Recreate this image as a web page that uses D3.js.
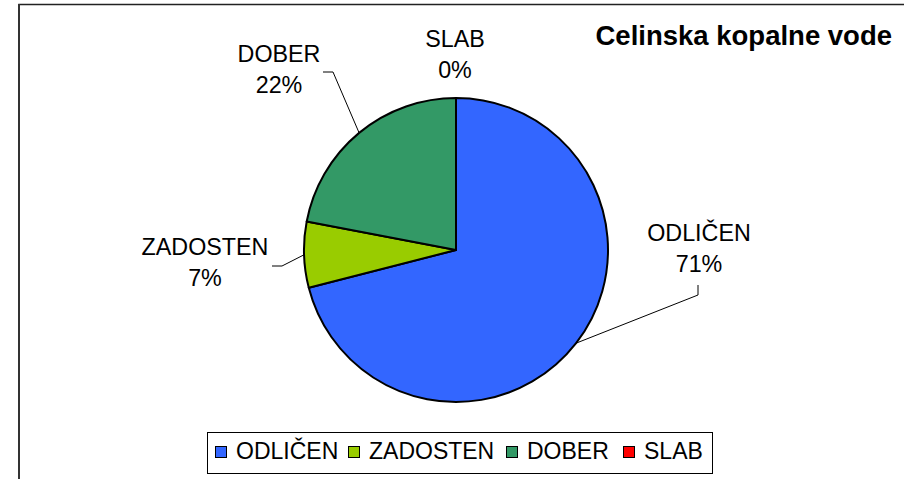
<!DOCTYPE html>
<html>
<head>
<meta charset="utf-8">
<script src="https://cdn.jsdelivr.net/npm/d3@7"></script>
<style>
  body { margin: 0; background: #fff; }
  svg { display: block; font-family: "Liberation Sans", Arial, sans-serif; }
</style>
</head>
<body>
<svg id="chart" width="904" height="479"></svg>
<script>
// data
const categories = ["ODLIČEN", "ZADOSTEN", "DOBER", "SLAB"];
const values = [71, 7, 22, 0];
const colors = ["#3366FF", "#99CC00", "#339966", "#FF0000"];
const title = "Celinska kopalne vode";

const W = 904, H = 479;
const cx = 456, cy = 250, r = 152;

const svg = d3.select("#chart");

// chart frame (right / bottom edges fall outside the picture)
svg.append("path")
    .attr("d", "M19,479 L19,4.5 L904,4.5")
    .attr("fill", "none")
    .attr("stroke", "#222")
    .attr("stroke-width", 1.5);
svg.append("line")
    .attr("x1", 19).attr("x2", 19).attr("y1", 4).attr("y2", 479)
    .attr("stroke", "#333").attr("stroke-width", 2);

// title
svg.append("text")
    .attr("x", 892).attr("y", 45)
    .attr("text-anchor", "end")
    .attr("font-size", 27.5)
    .attr("font-weight", "bold")
    .text(title);

const data = categories.map((c, i) => ({ name: c, value: values[i], color: colors[i] }));

const pie = d3.pie().value(d => d.value).sort(null);
const arcs = pie(data);
const arc = d3.arc().innerRadius(0).outerRadius(r);

const g = svg.append("g").attr("transform", "translate(" + cx + "," + cy + ")");

g.selectAll("path.slice")
    .data(arcs.filter(d => d.value > 0))
    .enter().append("path")
    .attr("class", "slice")
    .attr("d", arc)
    .attr("fill", d => d.data.color)
    .attr("stroke", "#000")
    .attr("stroke-width", 2)
    .attr("stroke-linejoin", "round");

// label placement (absolute page coords), leader elbow and end
const labelLayout = {
  "ODLIČEN":  { x: 699, y: 241, elbow: [698, 295], end: [698, 285] },
  "ZADOSTEN": { x: 205, y: 255, elbow: [282, 266], end: [272, 266] },
  "DOBER":    { x: 279, y: 62,  elbow: [333, 72],  end: [323, 72] },
  "SLAB":     { x: 455, y: 47,  elbow: null, end: null }
};

const total = d3.sum(values);

arcs.forEach(d => {
  const L = labelLayout[d.data.name];
  const mid = (d.startAngle + d.endAngle) / 2;
  if (L.elbow) {
    const ex = cx + Math.sin(mid) * r;
    const ey = cy - Math.cos(mid) * r;
    svg.append("polyline")
        .attr("points", [[ex, ey], L.elbow, L.end].map(p => p.join(",")).join(" "))
        .attr("fill", "none")
        .attr("stroke", "#000")
        .attr("stroke-width", 1);
  }
  const t = svg.append("text")
      .attr("text-anchor", "middle")
      .attr("font-size", 23.3);
  t.append("tspan").attr("x", L.x).attr("y", L.y).text(d.data.name);
  t.append("tspan").attr("x", L.x).attr("y", L.y + 31)
      .text(Math.round(d.value / total * 100) + "%");
});

// legend
const legend = svg.append("g");
legend.append("rect")
    .attr("x", 207.5).attr("y", 432.5)
    .attr("width", 505).attr("height", 41)
    .attr("fill", "#fff")
    .attr("stroke", "#000")
    .attr("stroke-width", 1);

const legendX = [215, 348, 506, 623];
const items = legend.selectAll("g.item")
    .data(data)
    .enter().append("g")
    .attr("class", "item")
    .attr("transform", (d, i) => "translate(" + legendX[i] + ",0)");
items.append("rect")
    .attr("x", 0.5).attr("y", 446.5)
    .attr("width", 11).attr("height", 11)
    .attr("fill", d => d.color)
    .attr("stroke", "#000")
    .attr("stroke-width", 1);
items.append("text")
    .attr("x", 21).attr("y", 459)
    .attr("font-size", 23)
    .text(d => d.name);
</script>
</body>
</html>
